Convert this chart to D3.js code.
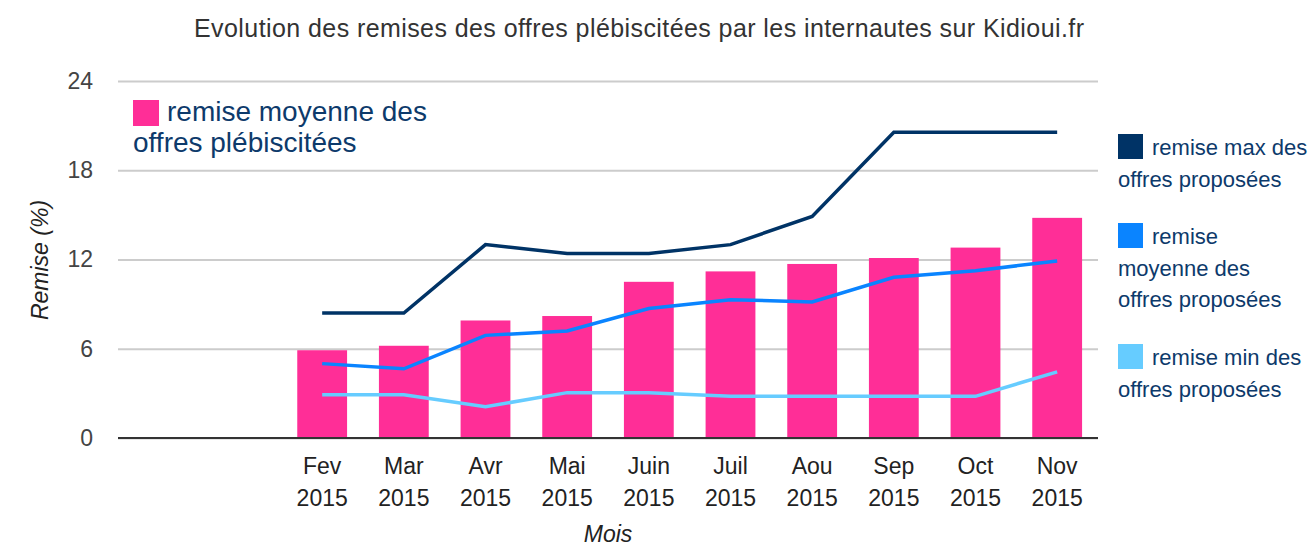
<!DOCTYPE html>
<html><head><meta charset="utf-8">
<script src="https://cdn.jsdelivr.net/npm/d3@7"></script>
<style>body{margin:0;background:#fff}svg{display:block;font-family:"Liberation Sans",Arial,sans-serif}</style>
</head><body><svg id="c" width="1316" height="556"></svg>
<script>
const months = ["", "", "Fev", "Mar", "Avr", "Mai", "Juin", "Juil", "Aou", "Sep", "Oct", "Nov"];
const years  = ["", "", "2015", "2015", "2015", "2015", "2015", "2015", "2015", "2015", "2015", "2015"];
const plebiscite = [null, null, 5.9, 6.2, 7.9, 8.2, 10.5, 11.2, 11.7, 12.1, 12.8, 14.8];
const maxOffres  = [null, null, 8.4, 8.4, 13.0, 12.4, 12.4, 13.0, 14.9, 20.55, 20.55, 20.55];
const moyOffres  = [null, null, 5.0, 4.65, 6.9, 7.2, 8.7, 9.3, 9.15, 10.8, 11.25, 11.9];
const minOffres  = [null, null, 2.9, 2.9, 2.1, 3.05, 3.05, 2.8, 2.8, 2.8, 2.8, 4.45];
const yTicks = [0, 6, 12, 18, 24];
const title = "Evolution des remises des offres plébiscitées par les internautes sur Kidioui.fr";

const svg = d3.select("#c");
const L = 118, R = 1098, T = 81, B = 438;
const x = d3.scaleBand().domain(d3.range(months.length)).range([L, R]).paddingInner(0.39).paddingOuter(0.195);
const xc = i => x(i) + x.bandwidth()/2;
const y = d3.scaleLinear().domain([0, 24]).range([B, T]);

svg.append("text").attr("x", 639).attr("y", 37).attr("text-anchor", "middle")
  .attr("font-size", 25).attr("fill", "#333").attr("textLength", 890).attr("lengthAdjust", "spacing").text(title);

// grid
const gy = svg.append("g").attr("transform", `translate(${L},0)`)
  .call(d3.axisLeft(y).tickValues(yTicks).tickSize(-(R - L)).tickFormat(d3.format("d")));
gy.select(".domain").remove();
gy.selectAll(".tick line").attr("stroke", "#ccc").attr("stroke-width", 2);
gy.selectAll(".tick text").attr("x", -25).attr("font-size", 23).attr("fill", "#444")
  .attr("font-family", "Liberation Sans, Arial, sans-serif");

// bars
svg.append("g").selectAll("rect").data(plebiscite.map((v, i) => ({v, i})).filter(d => d.v != null))
  .join("rect").attr("x", d => x(d.i)).attr("width", x.bandwidth())
  .attr("y", d => y(d.v)).attr("height", d => y(0) - y(d.v)).attr("fill", "#ff2e97");

// baseline
svg.append("line").attr("x1", L).attr("x2", R).attr("y1", y(0)).attr("y2", y(0))
  .attr("stroke", "#333").attr("stroke-width", 2);

// lines
const line = d3.line().defined(d => d.v != null).x(d => xc(d.i)).y(d => y(d.v));
[[maxOffres, "#003366"], [moyOffres, "#0a84ff"], [minOffres, "#66ccff"]].forEach(([arr, col]) => {
  svg.append("path").datum(arr.map((v, i) => ({v, i}))).attr("d", line)
    .attr("fill", "none").attr("stroke", col).attr("stroke-width", 3.5);
});

// x axis labels
const gx = svg.append("g").attr("transform", `translate(0,${B})`)
  .call(d3.axisBottom(x).tickSize(0).tickFormat(i => months[i]));
gx.select(".domain").remove();
gx.selectAll(".tick text").attr("fill", "#222").attr("font-size", 23).attr("y", 36).attr("dy", null)
  .attr("font-family", "Liberation Sans, Arial, sans-serif");
gx.selectAll(".tick").append("text").attr("fill", "#222").attr("font-size", 23).attr("y", 68)
  .attr("text-anchor", "middle").attr("font-family", "Liberation Sans, Arial, sans-serif")
  .text(i => years[i]);

// axis titles
svg.append("text").attr("x", (L + R) / 2).attr("y", 542).attr("text-anchor", "middle")
  .attr("font-size", 23).attr("font-style", "italic").attr("fill", "#222").text("Mois");
svg.append("text").attr("transform", "translate(48,260) rotate(-90)").attr("text-anchor", "middle")
  .attr("font-size", 23).attr("font-style", "italic").attr("fill", "#222").text("Remise (%)");

// in-plot legend
const legCol = "#0d3a6b";
svg.append("rect").attr("x", 133).attr("y", 100).attr("width", 26).attr("height", 26).attr("fill", "#ff2e97");
const lt = svg.append("text").attr("font-size", 28).attr("fill", legCol);
lt.append("tspan").attr("x", 167).attr("y", 121).text("remise moyenne des");
lt.append("tspan").attr("x", 133).attr("y", 152).text("offres plébiscitées");

// right legend
const rl = [
  {col: "#003366", lines: ["remise max des", "offres proposées"], y0: 155},
  {col: "#0a84ff", lines: ["remise", "moyenne des", "offres proposées"], y0: 244},
  {col: "#66ccff", lines: ["remise min des", "offres proposées"], y0: 365}
];
rl.forEach(it => {
  svg.append("rect").attr("x", 1118).attr("y", it.y0 - 21).attr("width", 25).attr("height", 25).attr("fill", it.col);
  const t = svg.append("text").attr("font-size", 22).attr("fill", legCol);
  it.lines.forEach((s, k) => t.append("tspan").attr("x", k === 0 ? 1152 : 1118).attr("y", it.y0 + k * 31.5).text(s));
});
</script></body></html>
